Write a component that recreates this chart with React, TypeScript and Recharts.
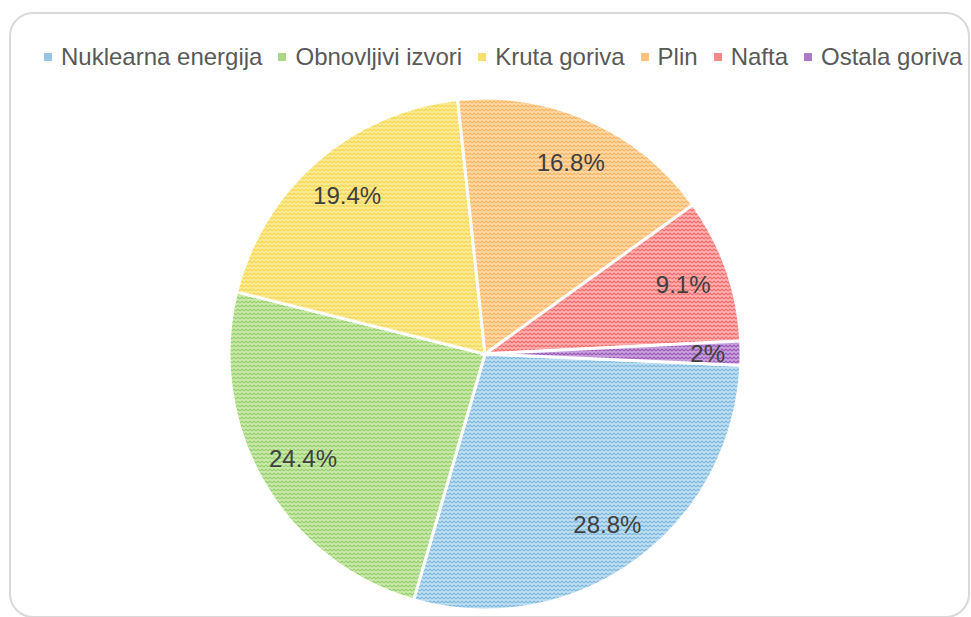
// Energy mix pie — hatched slices, legend on top, rounded card frame.
import { Pie, PieChart, Cell } from "recharts";

const NAMES = ["Nuklearna energija", "Obnovljivi izvori", "Kruta goriva", "Plin", "Nafta", "Ostala goriva"];
// slice sizes as drawn; the last slice is labelled "2%" but drawn ~1.5%
const SHARES = [28.8, 24.4, 19.4, 16.8, 9.1, 1.5];
const LABELS = ["28.8%", "24.4%", "19.4%", "16.8%", "9.1%", "2%"];
const LIGHT = ["#c2e0f2", "#cdeab0", "#fcec9a", "#fdd9a8", "#fcb0b0", "#c9a3dc"];
const DARK = ["#7db8de", "#93d069", "#f6d64c", "#fbb35e", "#f46a6a", "#9a58b8"];

const data = NAMES.map((name, i) => ({ name, value: SHARES[i], label: LABELS[i] }));
const RAD = Math.PI / 180;
const FONT = "'Liberation Sans', Arial, Helvetica, sans-serif";

function Patterns() {
  return (
    <svg width={0} height={0} style={{ position: "absolute" }}>
      <defs>
        {LIGHT.map((c, i) => (
          <pattern key={i} id={`pat${i}`} patternUnits="userSpaceOnUse" width={4} height={4}>
            <rect width={4} height={4} fill={c} />
            <path d="M0 3 L2 1 L4 3" fill="none" stroke={DARK[i]} strokeWidth={1.1} />
          </pattern>
        ))}
      </defs>
    </svg>
  );
}

function SliceLabel(p: any) {
  const r = p.outerRadius * (p.value < 5 ? 0.87 : 0.82);
  const x = p.cx + r * Math.cos(-p.midAngle * RAD);
  const y = p.cy + r * Math.sin(-p.midAngle * RAD);
  return (
    <text x={x} y={y} textAnchor="middle" dominantBaseline="central" fill="#404040"
      fontSize={24} fontFamily={FONT}>{p.payload.label}</text>
  );
}

function LegendBox() {
  return (
    <div style={{ position: "absolute", left: 44, top: 43, display: "flex", alignItems: "center",
      fontFamily: FONT, fontSize: 24, color: "#595959", whiteSpace: "nowrap" }}>
      {NAMES.map((n, i) => (
        <span key={n} style={{ display: "flex", alignItems: "center", marginRight: 16 }}>
          <svg width={8} height={8} style={{ marginRight: 9 }}><rect width={8} height={8} fill={DARK[i]} opacity={0.8} /></svg>
          {n}
        </span>
      ))}
    </div>
  );
}

export default function App() {
  return (
    <div style={{ position: "absolute", left: 0, top: 0, width: 971, height: 617, background: "#fff", overflow: "hidden" }}>
      <Patterns />
      <div style={{ position: "absolute", left: 9, top: 12, width: 957, height: 602, border: "2px solid #d9d9d9", borderRadius: 24 }} />
      <PieChart width={971} height={617} margin={{ top: 0, right: 0, bottom: 0, left: 0 }}
        style={{ position: "absolute", left: 0, top: 0 }}>
        <Pie data={data} dataKey="value" nameKey="name" cx={485} cy={354} outerRadius={256}
          startAngle={-2.5} endAngle={-362.5} stroke="#fff" strokeWidth={3}
          label={SliceLabel} labelLine={false} isAnimationActive={false}>
          {data.map((_, i) => <Cell key={i} fill={`url(#pat${i})`} />)}
        </Pie>
      </PieChart>
      <LegendBox />
    </div>
  );
}
